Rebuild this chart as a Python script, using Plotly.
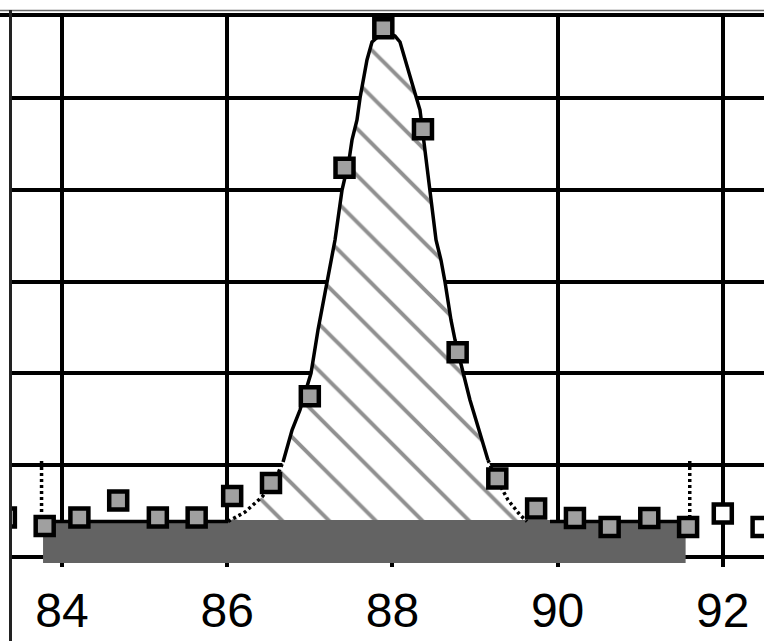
import plotly.graph_objects as go

# ---- data ----
pts_x = [83.32, 83.79, 84.21, 84.68, 85.16, 85.63, 86.06, 86.53, 87.00, 87.42,
         87.89, 88.37, 88.79, 89.27, 89.74, 90.21, 90.63, 91.11, 91.58, 92.00, 92.47]
pts_y = [4.30, 3.38, 4.30, 6.15, 4.30, 4.30, 6.64, 8.06, 17.5, 42.4,
         57.6, 46.6, 22.3, 8.55, 5.28, 4.25, 3.27, 4.25, 3.27, 4.74, 3.27]
pts_in_range = [False, True, True, True, True, True, True, True, True, True,
                True, True, True, True, True, True, True, True, True, False, False]

curve_x = [83.794, 86.010, 86.215, 86.421, 86.579, 86.676, 86.785, 86.881, 87.015, 87.099,
           87.208, 87.305, 87.390, 87.475, 87.511, 87.571, 87.608, 87.644, 87.692, 87.753,
           87.850, 87.947, 88.031, 88.092, 88.153, 88.262, 88.334, 88.395, 88.419, 88.455,
           88.528, 88.588, 88.637, 88.709, 88.758, 88.818, 88.855, 88.939, 89.012, 89.085,
           89.157, 89.254, 89.400, 89.545, 89.630, 89.908, 91.554]
curve_y = [3.87, 3.87, 4.90, 6.54, 8.39, 10.35, 13.83, 16.01, 20.04, 24.73,
           29.85, 34.53, 39.98, 43.25, 45.43, 47.60, 50.00, 51.96, 54.14, 56.10,
           56.86, 57.08, 56.75, 56.10, 54.14, 50.87, 48.69, 44.34, 42.16, 39.98,
           34.53, 32.35, 29.96, 25.82, 23.64, 21.46, 20.04, 17.10, 14.92, 12.75,
           10.57, 8.61, 6.21, 4.58, 3.87, 3.87, 3.87]

band_x = [83.77, 91.55]
band_y = [-0.65, 4.03]

bound_left_x = [83.752, 83.752]
bound_right_x = [91.60, 91.60]
bound_y = [4.25, 10.68]

x_range = [83.370, 92.499]
y_range = [-1.089, 59.04]
x_ticks = [84, 86, 88, 90, 92]
x_ticklabels = ["84", "86", "88", "90", "92"]

fig = go.Figure()

# hatched peak area
i0, i1 = 1, 44
fig.add_trace(go.Scatter(
    x=curve_x[i0:i1 + 1], y=curve_y[i0:i1 + 1], mode="lines", fill="toself",
    fillcolor="white", line=dict(width=0, color="rgba(0,0,0,0)"),
    fillpattern=dict(shape="\\", fgcolor="#222222", bgcolor="white", size=33, solidity=0.12),
    hoverinfo="skip", showlegend=False))

# dark baseline band
fig.add_trace(go.Scatter(
    x=[band_x[0], band_x[1], band_x[1], band_x[0], band_x[0]],
    y=[band_y[0], band_y[0], band_y[1], band_y[1], band_y[0]],
    mode="lines", fill="toself", fillcolor="#636363", line=dict(width=0, color="#636363"),
    hoverinfo="skip", showlegend=False))

# fit curve: solid / dotted parts
def seg(a, b, dash):
    fig.add_trace(go.Scatter(x=curve_x[a:b + 1], y=curve_y[a:b + 1], mode="lines",
                             line=dict(color="black", width=3.5, dash=dash),
                             hoverinfo="skip", showlegend=False))

seg(0, 1, "solid")
seg(1, 5, "3px,3px")
seg(5, 40, "solid")
seg(40, 44, "3px,3px")
seg(45, 46, "solid")

# integration boundaries
for bx in (bound_left_x, bound_right_x):
    fig.add_trace(go.Scatter(x=bx, y=bound_y, mode="lines",
                             line=dict(color="black", width=3.5, dash="3px,3px"),
                             hoverinfo="skip", showlegend=False))

# data points
gx = [x for x, f in zip(pts_x, pts_in_range) if f]
gy = [y for y, f in zip(pts_y, pts_in_range) if f]
wx = [x for x, f in zip(pts_x, pts_in_range) if not f]
wy = [y for y, f in zip(pts_y, pts_in_range) if not f]
fig.add_trace(go.Scatter(x=gx, y=gy, mode="markers",
                         marker=dict(symbol="square", size=18, color="#a0a0a0",
                                     line=dict(color="black", width=4.5)),
                         showlegend=False))
fig.add_trace(go.Scatter(x=wx, y=wy, mode="markers",
                         marker=dict(symbol="square", size=18, color="white",
                                     line=dict(color="black", width=4.5)),
                         showlegend=False))

H_PLOT = 641 - 15 - 74
fig.update_layout(
    width=764, height=641,
    margin=dict(l=10, r=0, t=15, b=74, autoexpand=False),
    paper_bgcolor="white", plot_bgcolor="white",
    xaxis=dict(range=x_range, tickvals=x_ticks, ticktext=x_ticklabels, automargin=False,
               showgrid=True, gridcolor="black", gridwidth=4, zeroline=False,
               showline=False, ticks="", ticklabelstandoff=11,
               tickfont=dict(family="Liberation Sans, Arial, sans-serif",
                             size=48, color="black")),
    yaxis=dict(range=y_range, dtick=10, tick0=0, showgrid=True, gridcolor="black", automargin=False,
               gridwidth=4, zeroline=False, showline=False, showticklabels=False, ticks=""),
    shapes=[
        dict(type="line", xref="paper", yref="paper", x0=-0.02, x1=1.02, y0=1, y1=1,
             line=dict(color="black", width=4)),
        dict(type="line", xref="paper", yref="paper", x0=-0.02, x1=1.02,
             y0=1 + 4.5 / H_PLOT, y1=1 + 4.5 / H_PLOT, line=dict(color="#6a6a6a", width=1.5)),
        dict(type="line", xref="paper", yref="paper", x0=0.5 / 754, x1=0.5 / 754,
             y0=1 + 5 / H_PLOT, y1=-80 / H_PLOT, line=dict(color="#222222", width=3)),
    ],
)

fig.write_html("out.html", config={"displayModeBar": False},
               post_script="document.body.style.margin='0';document.body.style.overflow='hidden';")
